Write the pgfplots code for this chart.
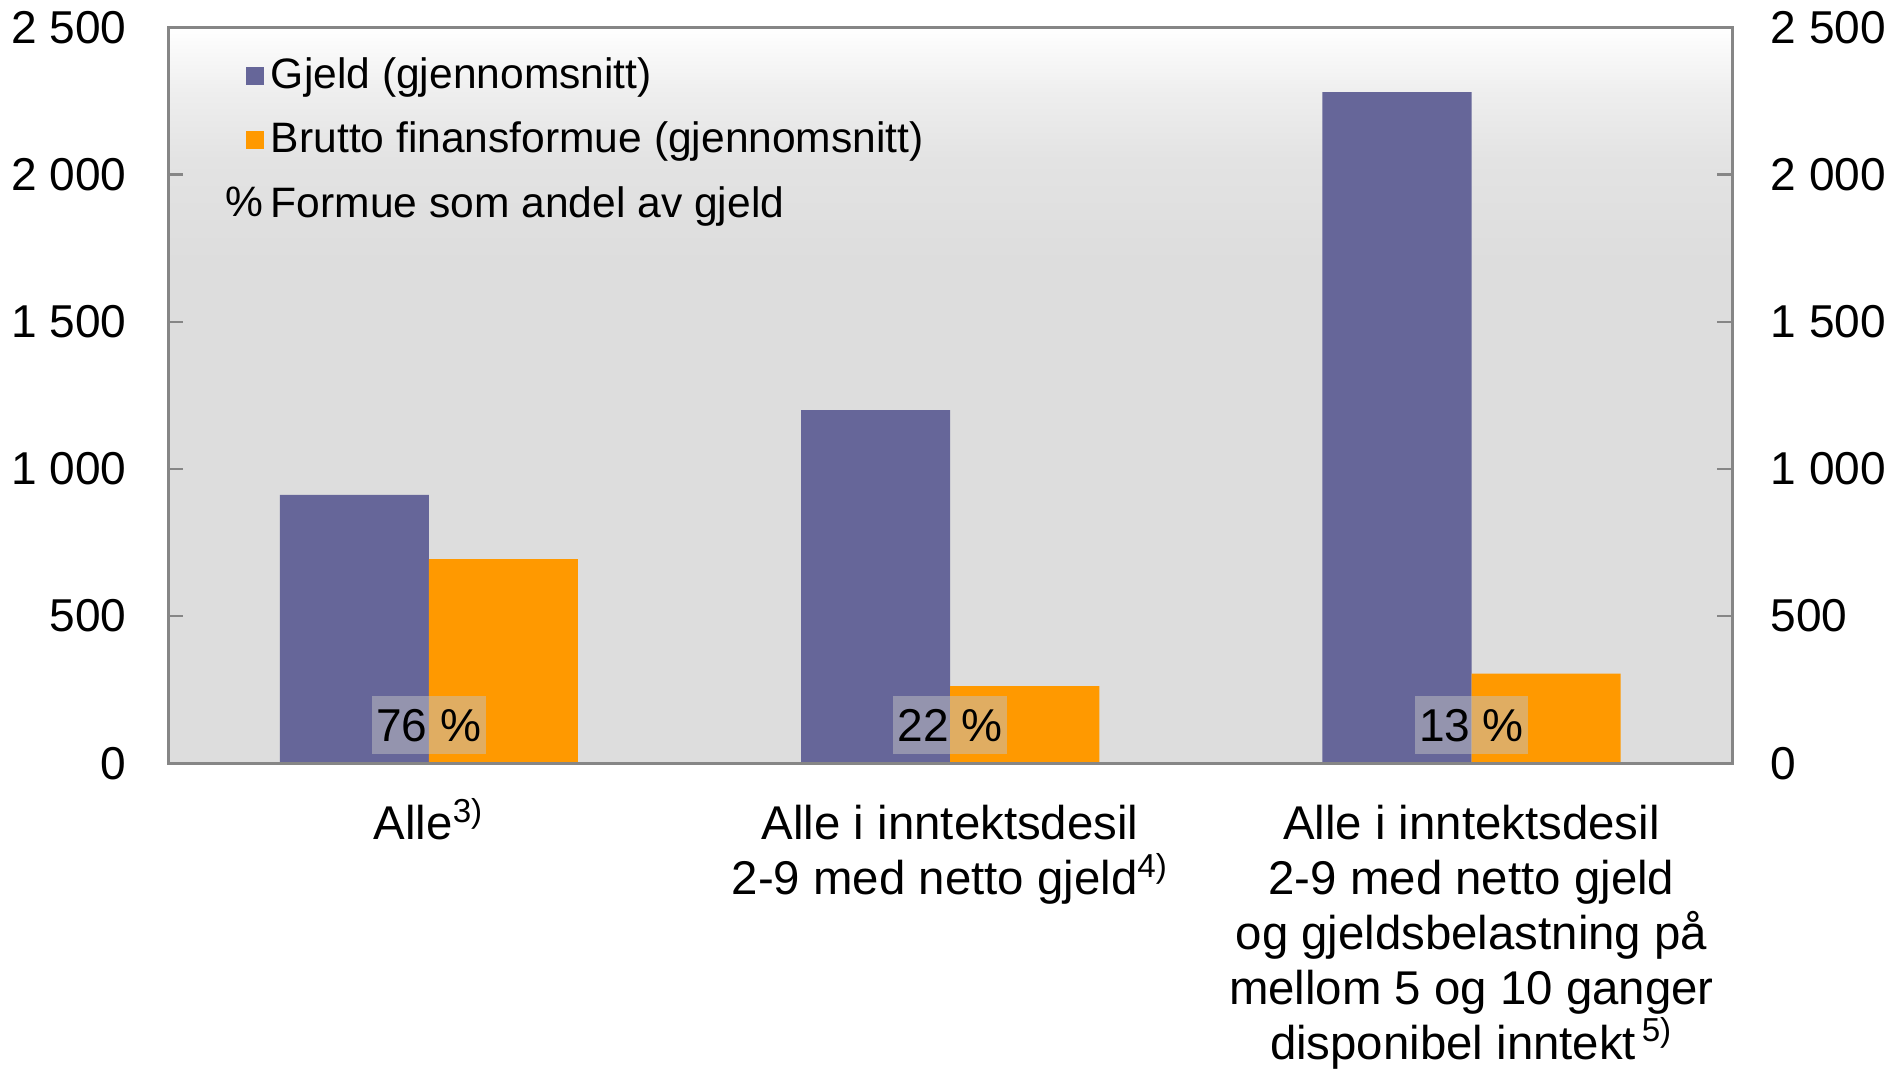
\documentclass[border=0pt]{standalone}
\usepackage{pgfplots}
\pgfplotsset{compat=1.18}
\usepackage{fontspec}
\setmainfont{Liberation Sans}
\definecolor{gjeld}{RGB}{102,102,153}
\definecolor{formue}{RGB}{255,153,0}
\definecolor{axgray}{RGB}{134,134,134}
\definecolor{bggray}{RGB}{221,221,221}
\definecolor{boxgray}{RGB}{194,194,196}
\definecolor{bgmidA}{RGB}{238,238,238}
\definecolor{bgmidB}{RGB}{227,227,227}
\pgfdeclareverticalshading{bgshade}{100bp}{color(0bp)=(bggray); color(25bp)=(bggray); color(59bp)=(bggray); color(66bp)=(bgmidB); color(70.5bp)=(bgmidA); color(75bp)=(white); color(100bp)=(white)}
\begin{document}
\begin{tikzpicture}
\pgfplotsset{
  common/.style={
    scale only axis, width=468.6pt, height=220.5pt,
    xmin=-0.5, xmax=2.5, ymin=0, ymax=2500,
    ytick={0,500,1000,1500,2000,2500},
    yticklabels={0,500,1 000,1 500,2 000,2 500},
    major tick length=4.5pt,
    tick align=inside,
    every tick/.style={axgray, line width=0.7pt},
    ticklabel style={font=\fontsize{13.8}{16.7}\selectfont},
    axis line style={axgray, line width=0.9pt},
  }
}
\begin{axis}[common,
  axis on top,
  axis background/.style={shading=bgshade},
  ytick pos=left,
  yticklabel style={xshift=-9pt},
  xtick={0,1,2},
  major x tick style={draw=none},
  xticklabels={Alle\smash{\textsuperscript{3)}},
    {Alle i inntektsdesil\\2-9 med netto gjeld\smash{\textsuperscript{4)}}},
    {Alle i inntektsdesil\\2-9 med netto gjeld\\og gjeldsbelastning på\\mellom 5 og 10 ganger\\disponibel inntekt\smash{\textsuperscript{\,5)}}}},
  xticklabel style={align=center, anchor=north, inner sep=0pt, yshift=-12.4pt, font=\fontsize{14.2}{16.45}\selectfont},
  legend style={draw=none, fill=none, at={(0.03,0.978)}, anchor=north west,
    font=\fontsize{12.75}{15.3}\selectfont, row sep=4.6pt, legend cell align=left},
]
\addplot[ybar, fill=gjeld, draw=none, bar width=0.286, bar shift=-0.143,
  legend image code/.code={\fill[gjeld] (0pt,-2.7pt) rectangle (5.4pt,2.7pt);}]
  coordinates {(0,912) (1,1200) (2,2280)};
\addlegendentry{Gjeld (gjennomsnitt)}
\addplot[ybar, fill=formue, draw=none, bar width=0.286, bar shift=0.143,
  legend image code/.code={\fill[formue] (0pt,-2.7pt) rectangle (5.4pt,2.7pt);}]
  coordinates {(0,694) (1,262) (2,305)};
\addlegendentry{Brutto finansformue (gjennomsnitt)}
\addlegendimage{legend image code/.code={\node[anchor=east, inner sep=0pt] at (5.4pt,0pt) {\%};}}
\addlegendentry{Formue som andel av gjeld}
\foreach \xx/\lab in {0/76, 1/22, 2/13}{
  \edef\temp{\noexpand\node[fill=boxgray, fill opacity=0.5, text opacity=1, minimum width=34pt, minimum height=17.4pt, inner sep=0pt, font=\noexpand\fontsize{13.8}{16.7}\noexpand\selectfont] at (axis cs:\xx,129) {\lab~\noexpand\%};}
  \temp
}
\end{axis}
\begin{axis}[common,
  hide x axis,
  axis y line*=right,
  yticklabel style={anchor=west, xshift=8pt},
]
\end{axis}
\end{tikzpicture}
\end{document}
